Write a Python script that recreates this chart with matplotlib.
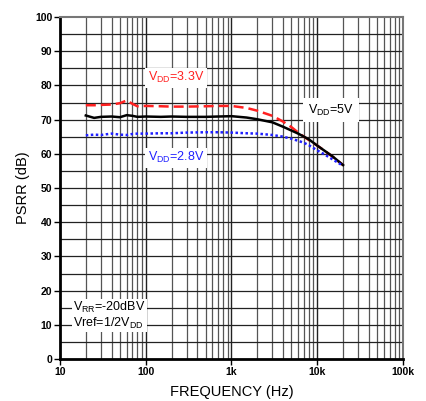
import numpy as np
import matplotlib
matplotlib.use("Agg")
import matplotlib.pyplot as plt
from matplotlib.ticker import FixedLocator, NullFormatter

plt.rcParams['font.family'] = ['Liberation Sans', 'DejaVu Sans']

freq = [20, 25, 30, 40, 50, 60, 70, 80, 100, 150, 200, 300, 500, 700, 1000,
        1500, 2000, 3000, 4000, 5000, 6000, 7000, 8000, 10000, 12000, 15000, 20000]
vdd33 = [74.2, 74.2, 74.3, 74.4, 74.8, 75.6, 74.6, 73.9, 74.0, 73.9, 73.8, 73.8,
         73.9, 74.0, 74.0, 73.4, 72.6, 71.1, 69.4, 67.8, 66.2, 65.0, 64.0, 62.4, 61.0, 59.2, 56.7]
vdd5 = [71.2, 70.5, 70.8, 70.9, 70.7, 71.3, 71.1, 70.8, 70.9, 70.8, 70.9, 70.8,
        70.8, 70.9, 71.0, 70.6, 70.1, 69.2, 67.9, 66.8, 65.9, 65.0, 64.2, 62.4, 61.0, 59.3, 56.7]
vdd28 = [65.4, 65.6, 65.5, 65.9, 65.6, 65.5, 65.8, 65.9, 65.9, 66.0, 66.0, 66.2,
         66.3, 66.3, 66.2, 66.0, 65.9, 65.5, 65.0, 64.4, 63.8, 63.2, 62.5, 61.0, 59.9, 58.4, 56.5]

xticks = [10, 100, 1000, 10000, 100000]
xticklabels = ['10', '100', '1k', '10k', '100k']
yticks = list(range(0, 101, 10))

fig = plt.figure(figsize=(4.27, 4.01), dpi=100)
ax = fig.add_axes([60/427, 1 - 359/401, 343/427, 342/401])
ax.set_xscale('log')
ax.set_xlim(10, 100000)
ax.set_ylim(0, 100)

# grid
minor_x = [m * 10**d for d in range(1, 5) for m in range(2, 10)]
for xv in minor_x:
    ax.axvline(xv, color='#555555', lw=0.9, zorder=1)
for xv in xticks[1:-1]:
    ax.axvline(xv, color='#222222', lw=1.0, zorder=1)
for yv in range(5, 100, 5):
    ax.axhline(yv, color='#222222', lw=0.9, zorder=1)

ax.plot(freq, vdd33, color='#ff2020', lw=1.8, ls=(0, (4, 2)), zorder=4)
ax.plot(freq, vdd5, color='black', lw=1.8, zorder=4)
ax.plot(freq, vdd28, color='#2020ff', lw=1.8, ls=(0, (1, 1)), zorder=4)

ax.set_xticks(xticks)
ax.set_xticklabels(xticklabels, fontsize=7.5, fontweight='bold')
ax.xaxis.set_minor_locator(FixedLocator(minor_x))
ax.xaxis.set_minor_formatter(NullFormatter())
ax.set_yticks(yticks)
ax.set_yticklabels([str(v) for v in yticks], fontsize=7.5, fontweight='bold')
ax.tick_params(axis='both', which='major', length=4, width=1, pad=1.5)
ax.tick_params(axis='both', which='minor', length=0)

ax.set_xlabel('FREQUENCY (Hz)', fontsize=10.5, labelpad=6)
ax.set_ylabel('PSRR (dB)', fontsize=10.5, labelpad=4)

for side in ['left', 'bottom']:
    ax.spines[side].set_linewidth(2.0)
    ax.spines[side].set_color('black')
for side in ['top', 'right']:
    ax.spines[side].set_linewidth(1.5)
    ax.spines[side].set_color('#777777')

box = dict(facecolor='white', edgecolor='none', pad=2.0)
ax.text(106, 82.2, r'V$_{\mathregular{DD}}$=3.3V', color='#ff2020', fontsize=9,
        va='center', ha='left', bbox=box, zorder=5)
ax.text(7800, 72.8, r'V$_{\mathregular{DD}}$=5V', color='black', fontsize=9,
        va='center', ha='left', bbox=dict(facecolor='white', edgecolor='none', pad=3.5), zorder=5)
ax.text(106, 58.8, r'V$_{\mathregular{DD}}$=2.8V', color='#2020ff', fontsize=9,
        va='center', ha='left', bbox=box, zorder=5)
ax.text(14.2, 12.7, r'V$_{\mathregular{RR}}$=-20dBV' + '\n' + r'Vref=1/2V$_{\mathregular{DD}}$',
        color='black', fontsize=9, va='center', ha='left', linespacing=1.05,
        bbox=dict(facecolor='white', edgecolor='none', pad=1.0), zorder=5)

fig.savefig('out.png', dpi=100)
